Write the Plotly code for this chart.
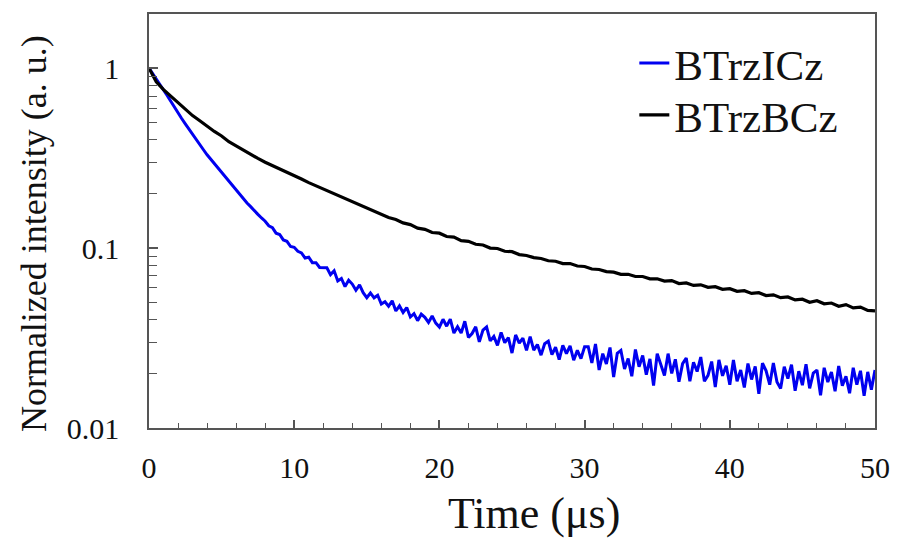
import plotly.graph_objects as go

# Time axes (microseconds)
time_blue = [i * 0.25 for i in range(201)]
time_black = [i * 0.5 for i in range(101)]

# BTrzICz (blue) normalized intensity (0.25 us steps)
btrzicz = [
    # 0 - 8 us
    1.0, 0.935, 0.87, 0.81, 0.76, 0.705, 0.655, 0.605, 0.56, 0.525,
    0.49, 0.46, 0.43, 0.40, 0.375, 0.352, 0.33, 0.312, 0.295, 0.278,
    0.263, 0.249, 0.236, 0.221, 0.208, 0.197, 0.187, 0.178, 0.170, 0.161,
    0.154, 0.147, 0.141,
    # 8.25 - 12 us
    0.133, 0.130, 0.121, 0.119, 0.111, 0.109, 0.102, 0.101, 0.096, 0.094,
    0.088, 0.089, 0.083, 0.083, 0.078, 0.078,
    # 12.25 - 20 us
    0.0777, 0.0712, 0.0748, 0.0657, 0.0678, 0.0611, 0.0662, 0.0631, 0.0583, 0.0625,
    0.0565, 0.0530, 0.0563, 0.0529, 0.0547, 0.0489, 0.0503, 0.0475, 0.0509, 0.0447,
    0.0477, 0.0439, 0.0467, 0.0414, 0.0432, 0.0395, 0.0429, 0.0412, 0.0386, 0.0419,
    0.0383, 0.0364,
    # 20.25 - 30 us
    0.0402, 0.0368, 0.0403, 0.0337, 0.0365, 0.0337, 0.0392, 0.0319, 0.0335, 0.0365,
    0.0301, 0.0350, 0.0364, 0.0305, 0.0323, 0.0288, 0.0340, 0.0298, 0.0318, 0.0261,
    0.0329, 0.0296, 0.0316, 0.0270, 0.0322, 0.0271, 0.0291, 0.0254, 0.0294, 0.0304,
    0.0256, 0.0281, 0.0240, 0.0288, 0.0259, 0.0286, 0.0238, 0.0270, 0.0243, 0.0283,
    # 30.25 - 50 us
    0.0283, 0.0230, 0.0293, 0.0210, 0.0259, 0.0227, 0.0280, 0.0192, 0.0260, 0.0270,
    0.0213, 0.0243, 0.0194, 0.0273, 0.0219, 0.0253, 0.0198, 0.0242, 0.0172, 0.0259,
    0.0228, 0.0196, 0.0259, 0.0201, 0.0241, 0.0181, 0.0228, 0.0245, 0.0182, 0.0232,
    0.0206, 0.0248, 0.0182, 0.0196, 0.0234, 0.0169, 0.0239, 0.0195, 0.0222, 0.0174,
    0.0239, 0.0182, 0.0210, 0.0168, 0.0228, 0.0186, 0.0220, 0.0155, 0.0229, 0.0208,
    0.0174, 0.0230, 0.0180, 0.0166, 0.0219, 0.0188, 0.0225, 0.0161, 0.0207, 0.0173,
    0.0226, 0.0166, 0.0202, 0.0210, 0.0152, 0.0216, 0.0180, 0.0205, 0.0160, 0.0221,
    0.0172, 0.0194, 0.0156, 0.0216, 0.0174, 0.0208, 0.0151, 0.0205, 0.0163, 0.0210,
]

# BTrzBCz (black) normalized intensity (0.5 us steps)
btrzbcz = [
    1.0, 0.84, 0.76, 0.70, 0.64, 0.59, 0.545, 0.51, 0.475, 0.445,
    0.42, 0.39, 0.37, 0.35, 0.33, 0.315, 0.30, 0.288, 0.275, 0.263,
    0.252, 0.242, 0.231, 0.222, 0.213, 0.204, 0.197, 0.188, 0.182, 0.174,
    0.167, 0.160, 0.155, 0.148, 0.144, 0.138, 0.135, 0.129, 0.127, 0.122,
    0.121, 0.116, 0.115, 0.110, 0.109, 0.105, 0.104, 0.100, 0.0995, 0.0960,
    0.0955, 0.0920, 0.0910, 0.0885, 0.0875, 0.0850, 0.0845, 0.0820, 0.0820, 0.0795,
    0.0790, 0.0765, 0.0760, 0.0740, 0.0735, 0.0715, 0.0715, 0.0695, 0.0695, 0.0675,
    0.0675, 0.0655, 0.0660, 0.0635, 0.0640, 0.0620, 0.0625, 0.0605, 0.0610, 0.0590,
    0.0595, 0.0575, 0.0580, 0.0560, 0.0565, 0.0545, 0.0550, 0.0530, 0.0535, 0.0515,
    0.0520, 0.0500, 0.0510, 0.0490, 0.0495, 0.0475, 0.0485, 0.0465, 0.0470, 0.0450,
    0.0448,
]

series_names = ["BTrzICz", "BTrzBCz"]
series_colors = ["#0000f0", "#000000"]
y_tickvals = [1, 0.1, 0.01]
y_ticktext = ["1", "0.1", "0.01"]
x_tickvals = [0, 10, 20, 30, 40, 50]
x_title = "Time (μs)"
y_title = "Normalized intensity (a. u.)"

FONT = "Liberation Serif, Times New Roman, serif"
AXCOL = "#555555"
pw, ph = 902 - 149 - 20, 538 - 14 - 110   # plot area size in px


def px_x(p):
    return (p - 149) / pw


def px_y(p):
    return (428 - p) / ph


fig = go.Figure()
fig.add_trace(go.Scatter(x=time_blue, y=btrzicz, mode="lines", name=series_names[0],
                         line=dict(color=series_colors[0], width=3), legend="legend"))
fig.add_trace(go.Scatter(x=time_black, y=btrzbcz, mode="lines", name=series_names[1],
                         line=dict(color=series_colors[1], width=3.2), legend="legend2"))

legend_common = dict(xanchor="left", yanchor="middle", bgcolor="rgba(0,0,0,0)",
                     font=dict(size=43, family=FONT, color="#111111"),
                     itemwidth=30)

fig.update_layout(
    width=902, height=538,
    margin=dict(l=149, r=20, t=14, b=110),
    paper_bgcolor="white", plot_bgcolor="white",
    font=dict(family=FONT, color="#111111", size=30),
    showlegend=True,
    legend=dict(x=px_x(639), y=px_y(63), **legend_common),
    legend2=dict(x=px_x(639), y=px_y(115), **legend_common),
    xaxis=dict(range=[0, 50], tickvals=x_tickvals, ticks="inside", ticklen=8,
               tickwidth=1.5, tickcolor=AXCOL, showline=True, linecolor=AXCOL,
               linewidth=1.5, mirror=True, showgrid=False, zeroline=False,
               ticklabelstandoff=12,
               minor=dict(dtick=2, ticks="inside", ticklen=5, tickwidth=1.2,
                          tickcolor=AXCOL, showgrid=False)),
    yaxis=dict(type="log", range=[-2, 0.301], tickvals=y_tickvals,
               ticktext=y_ticktext, ticks="inside", ticklen=9, tickwidth=1.5,
               tickcolor=AXCOL, showline=True, linecolor=AXCOL, linewidth=1.5,
               mirror=True, showgrid=False, zeroline=False,
               ticklabelstandoff=22,
               minor=dict(dtick="D1", ticks="inside", ticklen=8, tickwidth=1.2,
                          tickcolor=AXCOL, showgrid=False)),
    annotations=[
        dict(text=x_title, x=px_x(538), y=px_y(513), xref="paper", yref="paper",
             xanchor="center", yanchor="middle", showarrow=False,
             font=dict(size=44, family=FONT, color="#111111")),
        dict(text=y_title, x=px_x(33), y=px_y(234), xref="paper", yref="paper",
             xanchor="center", yanchor="middle", showarrow=False, textangle=-90,
             font=dict(size=36, family=FONT, color="#111111")),
    ],
)

fig.write_html("out.html")
